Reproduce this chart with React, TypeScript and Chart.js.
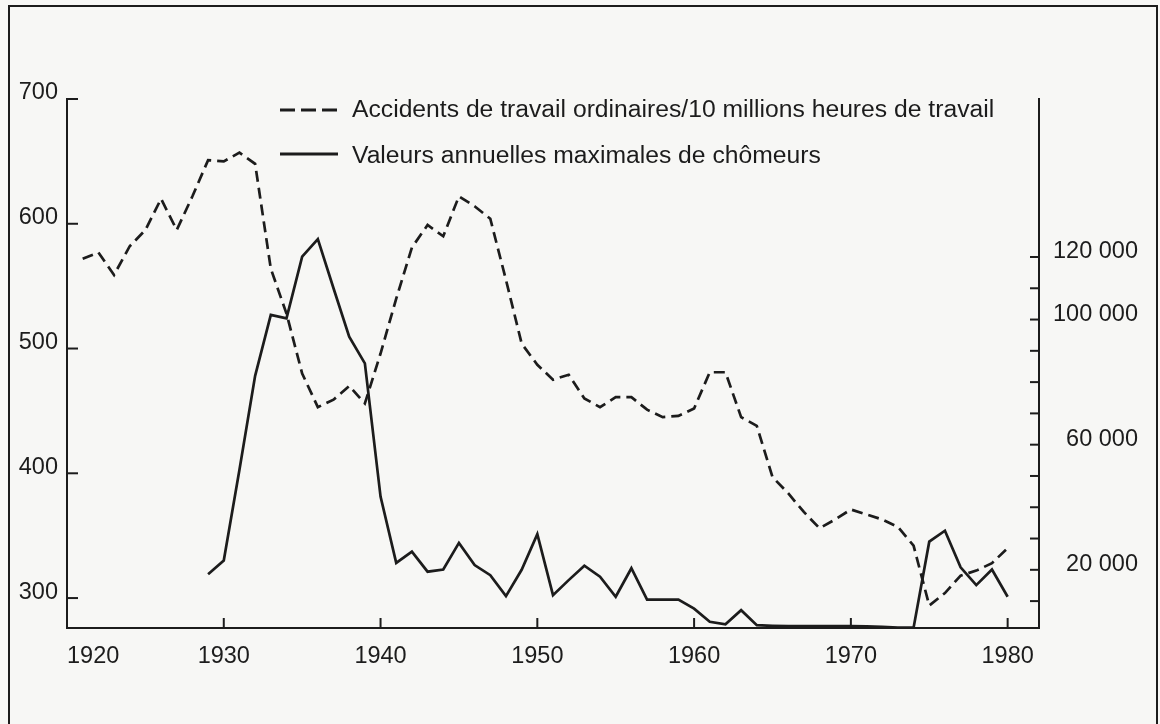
import React, { useEffect, useRef } from 'react';
import { Chart, registerables } from 'chart.js';

Chart.register(...registerables);

// ---- data ----
const accidentYears = [
  1921, 1922, 1923, 1924, 1925, 1926, 1927, 1928, 1929, 1930,
  1931, 1932, 1933, 1934, 1935, 1936, 1937, 1938, 1939, 1940,
  1941, 1942, 1943, 1944, 1945, 1946, 1947, 1948, 1949, 1950,
  1951, 1952, 1953, 1954, 1955, 1956, 1957, 1958, 1959, 1960,
  1961, 1962, 1963, 1964, 1965, 1966, 1967, 1968, 1969, 1970,
  1971, 1972, 1973, 1974, 1975, 1976, 1977, 1978, 1979, 1980,
];
const accidentValues = [
  572, 577, 559, 582, 595, 620, 595, 622, 651, 650,
  657, 648, 564, 528, 480, 453, 459, 470, 456, 496,
  540, 581, 599, 590, 622, 614, 604, 555, 504, 487,
  475, 479, 460, 453, 461, 461, 451, 445, 446, 452,
  481, 481, 445, 438, 397, 384, 369, 356, 363, 371,
  367, 363, 357, 342, 294, 304, 318, 322, 328, 340,
];

const unemploymentYears = [
  1929, 1930, 1931, 1932, 1933, 1934, 1935, 1936, 1937, 1938,
  1939, 1940, 1941, 1942, 1943, 1944, 1945, 1946, 1947, 1948,
  1949, 1950, 1951, 1952, 1953, 1954, 1955, 1956, 1957, 1958,
  1959, 1960, 1961, 1962, 1963, 1964, 1965, 1966, 1967, 1968,
  1969, 1970, 1971, 1972, 1973, 1974, 1975, 1976, 1977, 1978,
  1979, 1980,
];
const unemploymentValues = [
  18600, 23000, 52000, 82000, 101500, 100400, 120100, 125700, 110000, 94500,
  86000, 43400, 22200, 25800, 19400, 20100, 28600, 21500, 18300, 11600,
  20000, 31400, 11900, 16700, 21300, 17800, 11400, 20500, 10500, 10500,
  10500, 7600, 3400, 2600, 7100, 2300, 2100, 2000, 2000, 2000,
  2000, 2000, 1900, 1800, 1500, 1500, 29000, 32500, 20800, 15100,
  20100, 11400,
];

const yearTicks = [1920, 1930, 1940, 1950, 1960, 1970, 1980];
const leftTicks = [300, 400, 500, 600, 700];
const rightTicks = [
  10000, 20000, 30000, 40000, 50000, 60000,
  70000, 80000, 90000, 100000, 110000, 120000,
];
const rightLabelled = [20000, 60000, 100000, 120000];

const accidentLabel = 'Accidents de travail ordinaires/10 millions heures de travail';
const unemploymentLabel = 'Valeurs annuelles maximales de chômeurs';

// ---- styling ----
const INK = '#1c1c1c';
const PAPER = '#f7f7f5';
const FONT = '"Liberation Sans", Arial, sans-serif';
const DASH = [11, 6];

const fmtThousands = (v: number) => {
  const s = String(Math.round(v));
  return s.replace(/\B(?=(\d{3})+(?!\d))/g, ' ');
};

const framePlugin = {
  id: 'frame',
  beforeDraw(chart: any) {
    const { ctx, width, height } = chart;
    ctx.save();
    ctx.fillStyle = PAPER;
    ctx.fillRect(0, 0, width, height);
    ctx.strokeStyle = INK;
    ctx.lineWidth = 2;
    ctx.strokeRect(9, 6, width - 12, height + 20);
    ctx.restore();
  },
};

const inwardTicksPlugin = {
  id: 'inwardTicks',
  afterDatasetsDraw(chart: any) {
    const { ctx, chartArea: a, scales } = chart;
    ctx.save();
    ctx.strokeStyle = INK;
    ctx.lineWidth = 2;
    ctx.lineCap = 'butt';
    const seg = (x1: number, y1: number, x2: number, y2: number) => {
      ctx.beginPath();
      ctx.moveTo(x1, y1);
      ctx.lineTo(x2, y2);
      ctx.stroke();
    };
    scales.x.ticks.forEach((t: any) => {
      const px = scales.x.getPixelForValue(t.value);
      seg(px, a.bottom, px, a.bottom - 10);
    });
    scales.y.ticks.forEach((t: any) => {
      const py = scales.y.getPixelForValue(t.value);
      seg(a.left, py, a.left + 11, py);
    });
    scales.y2.ticks.forEach((t: any) => {
      const py = scales.y2.getPixelForValue(t.value);
      seg(a.right, py, a.right - 9, py);
    });
    ctx.restore();
  },
};

const legendPlugin = {
  id: 'paperLegend',
  afterDraw(chart: any) {
    const { ctx, chartArea: a } = chart;
    const x0 = a.left + 213;
    const sampleLen = 58;
    const rows = [
      { y: a.top + 11, baseline: a.top + 18 },
      { y: a.top + 55, baseline: a.top + 64 },
    ];
    ctx.save();
    ctx.fillStyle = INK;
    ctx.strokeStyle = INK;
    ctx.font = `24.7px ${FONT}`;
    ctx.textBaseline = 'alphabetic';
    ctx.textAlign = 'left';
    chart.data.datasets.forEach((ds: any, i: number) => {
      const r = rows[i];
      ctx.lineWidth = 3;
      ctx.setLineDash(ds.borderDash && ds.borderDash.length ? [15, 6] : []);
      ctx.beginPath();
      ctx.moveTo(x0, r.y);
      ctx.lineTo(x0 + sampleLen, r.y);
      ctx.stroke();
      ctx.setLineDash([]);
      ctx.fillText(ds.label, x0 + sampleLen + 14, r.baseline);
    });
    ctx.restore();
  },
};

export default function App() {
  const canvasRef = useRef<HTMLCanvasElement | null>(null);

  useEffect(() => {
    const canvas = canvasRef.current;
    if (!canvas) return;
    const chart = new Chart(canvas, {
      type: 'line',
      data: {
        datasets: [
          {
            label: accidentLabel,
            data: accidentYears.map((x, i) => ({ x, y: accidentValues[i] })),
            yAxisID: 'y',
            borderColor: INK,
            borderWidth: 2.7,
            borderDash: DASH,
            pointRadius: 0,
            tension: 0,
            fill: false,
          },
          {
            label: unemploymentLabel,
            data: unemploymentYears.map((x, i) => ({ x, y: unemploymentValues[i] })),
            yAxisID: 'y2',
            borderColor: INK,
            borderWidth: 2.7,
            pointRadius: 0,
            tension: 0,
            fill: false,
          },
        ],
      },
      options: {
        responsive: false,
        animation: false,
        devicePixelRatio: 1,
        layout: { padding: { top: 99, left: 0, right: 22, bottom: 0 } },
        plugins: {
          legend: { display: false },
          tooltip: { enabled: false },
          title: { display: false },
        },
        scales: {
          x: {
            type: 'linear',
            position: 'bottom',
            min: 1920,
            max: 1982,
            grid: { display: false, drawTicks: false },
            border: { display: true, color: INK, width: 2 },
            afterBuildTicks: (scale: any) => {
              scale.ticks = [...yearTicks, 1982].map((v) => ({ value: v }));
            },
            afterFit: (scale: any) => {
              scale.height = 96;
            },
            ticks: {
              autoSkip: false,
              maxRotation: 0,
              align: 'inner',
              padding: 14,
              color: INK,
              font: { family: FONT, size: 23.5 },
              callback: (v: any) => (yearTicks.includes(Number(v)) ? String(v) : ''),
            },
          },
          y: {
            type: 'linear',
            position: 'left',
            min: 276,
            max: 700,
            grid: { display: false, drawTicks: false },
            border: { display: true, color: INK, width: 2 },
            afterBuildTicks: (scale: any) => {
              scale.ticks = leftTicks.map((v) => ({ value: v }));
            },
            afterFit: (scale: any) => {
              scale.width = 67;
            },
            ticks: {
              autoSkip: false,
              padding: 9,
              labelOffset: -6,
              color: INK,
              font: { family: FONT, size: 23.5 },
              callback: (v: any) => String(v),
            },
          },
          y2: {
            type: 'linear',
            position: 'right',
            min: 1400,
            max: 170500,
            grid: { display: false, drawTicks: false },
            border: { display: true, color: INK, width: 2 },
            afterBuildTicks: (scale: any) => {
              scale.ticks = rightTicks.map((v) => ({ value: v }));
            },
            afterFit: (scale: any) => {
              scale.width = 99;
            },
            ticks: {
              autoSkip: false,
              padding: 13,
              crossAlign: 'far',
              labelOffset: -5,
              color: INK,
              font: { family: FONT, size: 23.5 },
              callback: (v: any) =>
                rightLabelled.includes(Number(v)) ? fmtThousands(Number(v)) : '',
            },
          },
        },
      },
      plugins: [framePlugin, inwardTicksPlugin, legendPlugin],
    } as any);
    return () => chart.destroy();
  }, []);

  return (
    <div
      style={{
        position: 'fixed',
        left: 0,
        top: 0,
        width: 1160,
        height: 724,
        background: PAPER,
        overflow: 'hidden',
      }}
    >
      <canvas
        ref={canvasRef}
        width={1160}
        height={724}
        style={{ display: 'block', width: 1160, height: 724 }}
      />
    </div>
  );
}
